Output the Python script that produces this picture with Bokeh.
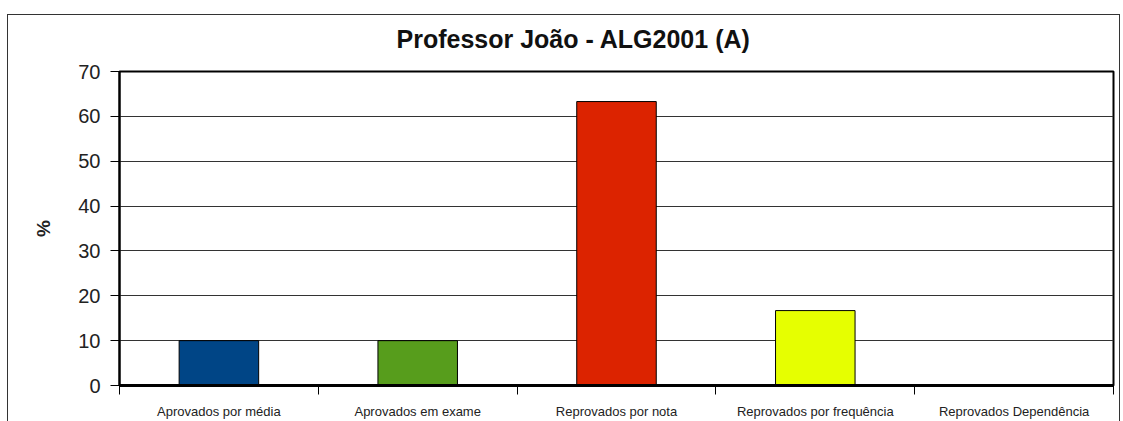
from bokeh.plotting import figure
from bokeh.models import FixedTicker, Range1d, ColumnDataSource, InlineStyleSheet
from bokeh.embed import file_html
from bokeh.resources import INLINE

title = "Professor João - ALG2001 (A)"
categories = ["Aprovados por média", "Aprovados em exame", "Reprovados por nota",
              "Reprovados por frequência", "Reprovados Dependência"]
values = [10.0, 10.0, 63.3, 16.7, 0.0]
colors = ["#004586", "#579d1c", "#dc2300", "#e6ff00", "#ffd320"]
y_ticks = [0, 10, 20, 30, 40, 50, 60, 70]

n = len(categories)
pos = [i + 0.5 for i in range(n)]
src = ColumnDataSource(dict(x=pos, top=values, color=colors, cat=categories))

p = figure(width=1123, height=421, x_range=Range1d(0, n), y_range=Range1d(0, 70),
           output_backend="svg", toolbar_location=None,
           min_border_left=119, min_border_right=10, min_border_top=71, min_border_bottom=35)

p.vbar(x="x", top="top", width=0.4, bottom=0, fill_color="color", line_color="black",
       line_width=1, source=src)

# title
p.title.text = title
p.title.align = "left"
p.title.offset = 277
p.title.text_font = "Liberation Sans"
p.title.text_font_style = "bold"
p.title.text_font_size = "25px"
p.title.text_color = "#111111"
p.title.standoff = 37

# frame
p.outline_line_color = "black"
p.outline_line_width = 2
p.background_fill_color = "white"
p.border_fill_color = "white"

# outer chart border
p.stylesheets = [InlineStyleSheet(css=(
    ":host::after { content: ''; position: absolute; left: 7px; top: 14px; "
    "width: 1113px; height: 407px; border-top: 1px solid #333; border-left: 1px solid #333; "
    "border-right: 1px solid #333; box-sizing: border-box; pointer-events: none; }"
))]

# y axis
yax = p.yaxis[0]
yax.ticker = FixedTicker(ticks=y_ticks)
yax.axis_line_color = "black"
yax.axis_line_width = 2
yax.major_tick_in = 0
yax.major_tick_out = 9
yax.major_tick_line_color = "black"
yax.minor_tick_line_color = None
yax.major_label_text_font = "Liberation Sans"
yax.major_label_text_font_size = "20px"
yax.major_label_text_color = "#222222"
yax.major_label_standoff = 10
yax.axis_label = "%"
yax.axis_label_text_font = "Liberation Sans"
yax.axis_label_text_font_style = "bold"
yax.axis_label_text_font_size = "19px"
yax.axis_label_text_color = "#222222"
yax.axis_label_standoff = 21

# x axis: labels at centers, ticks at boundaries
xax = p.xaxis[0]
xax.ticker = FixedTicker(ticks=pos, minor_ticks=list(range(n + 1)))
xax.major_label_overrides = {p_: c for p_, c in zip(pos, categories)}
xax.axis_line_color = "black"
xax.axis_line_width = 3
xax.major_tick_in = 0
xax.major_tick_out = 0
xax.minor_tick_in = 0
xax.minor_tick_out = 9
xax.minor_tick_line_color = "black"
xax.minor_tick_line_width = 1
xax.major_label_text_font = "Liberation Sans"
xax.major_label_text_font_size = "13px"
xax.major_label_text_color = "#222222"
xax.major_label_standoff = 9

p.xgrid.grid_line_color = None
p.ygrid.ticker = FixedTicker(ticks=y_ticks)
p.ygrid.grid_line_color = "#333333"
p.ygrid.grid_line_width = 1

open("out.html", "w").write(file_html(p, INLINE))
